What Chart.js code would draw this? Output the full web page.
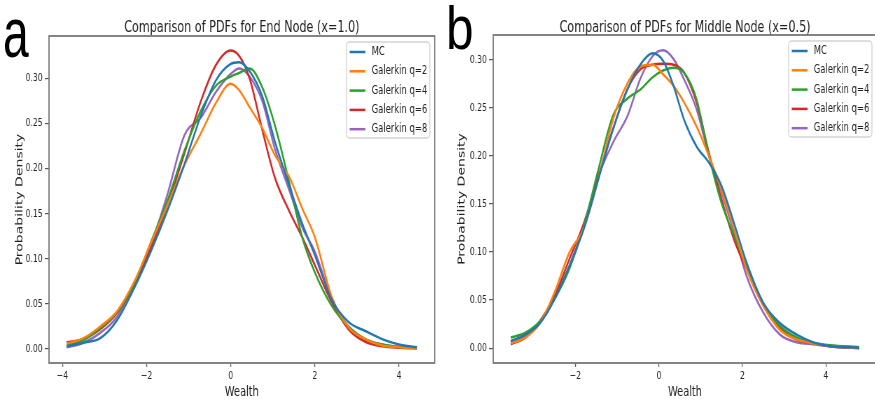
<!DOCTYPE html>
<html><head><meta charset="utf-8">
<script src="https://cdn.jsdelivr.net/npm/chart.js@4"></script>
<style>
html,body{margin:0;padding:0;background:#fff;}
body{width:875px;height:404px;overflow:hidden;position:relative;font-family:'DejaVu Sans',sans-serif;}
.panel{position:absolute;top:0;width:629px;height:404px;transform:scaleX(0.7);transform-origin:0 0;}
.letter{position:absolute;font-family:'Liberation Sans',Arial,sans-serif;color:#000;line-height:1;transform-origin:0 0;z-index:5;}
</style></head>
<body>
<div class="panel" style="left:0"><canvas id="cA" width="629" height="404"></canvas></div>
<div class="panel" style="left:440px"><canvas id="cB" width="629" height="404"></canvas></div>
<div class="letter" style="left:3px;top:-2px;font-size:70px;transform:scaleX(0.66)">a</div>
<div class="letter" style="left:446px;top:-3px;font-size:62px;transform:scaleX(0.8)">b</div>
<script>
// ---------- data ----------
const seriesNames = ['MC', 'Galerkin q=2', 'Galerkin q=4', 'Galerkin q=6', 'Galerkin q=8'];
const xTicks = [-4, -2, 0, 2, 4];
const yTicks = [0, 0.05, 0.10, 0.15, 0.20, 0.25, 0.30];

// Panel a: End Node (x=1.0)
const wealthEnd = [-3.9, -3.5, -3.1, -2.7, -2.3, -1.9, -1.5, -1.1, -0.7, -0.35, 0, 0.2, 0.45, 0.75, 1.05, 1.4, 1.7, 2.0, 2.4, 2.8, 3.2, 3.6, 4.0, 4.43];
const mcEnd  = [0.003, 0.007, 0.012, 0.032, 0.067, 0.108, 0.154, 0.205, 0.26, 0.298, 0.316, 0.318, 0.308, 0.28, 0.23, 0.18, 0.139, 0.104, 0.055, 0.03, 0.02, 0.011, 0.005, 0.002];
const q2End  = [0.006, 0.012, 0.025, 0.042, 0.074, 0.117, 0.16, 0.204, 0.24, 0.273, 0.294, 0.287, 0.268, 0.245, 0.215, 0.19, 0.156, 0.124, 0.058, 0.024, 0.011, 0.004, 0.002, 0.0005];
const q4End  = [0.004, 0.01, 0.023, 0.041, 0.072, 0.118, 0.165, 0.22, 0.265, 0.292, 0.302, 0.306, 0.311, 0.29, 0.248, 0.183, 0.124, 0.085, 0.048, 0.025, 0.011, 0.005, 0.0025, 0.001];
const q6End  = [0.0075, 0.011, 0.022, 0.04, 0.07, 0.112, 0.16, 0.217, 0.276, 0.315, 0.331, 0.325, 0.3, 0.243, 0.19, 0.152, 0.124, 0.093, 0.052, 0.022, 0.008, 0.003, 0.0015, 0.001];
const q8End  = [0.002, 0.007, 0.018, 0.036, 0.072, 0.115, 0.172, 0.237, 0.257, 0.285, 0.305, 0.311, 0.302, 0.275, 0.222, 0.175, 0.135, 0.108, 0.056, 0.025, 0.011, 0.005, 0.002, 0.001];

// Panel b: Middle Node (x=0.5)
const wealthMid = [-3.55, -3.2, -2.85, -2.5, -2.15, -1.8, -1.45, -1.1, -0.75, -0.45, -0.15, 0.1, 0.35, 0.6, 0.9, 1.2, 1.5, 1.8, 2.1, 2.5, 2.9, 3.3, 3.7, 4.1, 4.8];
const mcMid  = [0.0073, 0.014, 0.026, 0.051, 0.085, 0.124, 0.176, 0.228, 0.27, 0.295, 0.307, 0.299, 0.273, 0.238, 0.21, 0.193, 0.169, 0.13, 0.089, 0.047, 0.026, 0.014, 0.006, 0.002, 0.0005];
const q2Mid  = [0.005, 0.011, 0.026, 0.058, 0.099, 0.125, 0.176, 0.238, 0.276, 0.293, 0.295, 0.285, 0.273, 0.256, 0.231, 0.2, 0.165, 0.124, 0.082, 0.044, 0.019, 0.009, 0.005, 0.002, 0.0];
const q4Mid  = [0.011, 0.016, 0.028, 0.051, 0.082, 0.127, 0.186, 0.242, 0.26, 0.269, 0.282, 0.289, 0.292, 0.287, 0.259, 0.2, 0.151, 0.117, 0.085, 0.047, 0.023, 0.011, 0.0056, 0.003, 0.001];
const q6Mid  = [0.004, 0.011, 0.028, 0.054, 0.092, 0.13, 0.179, 0.228, 0.27, 0.29, 0.295, 0.296, 0.295, 0.287, 0.256, 0.203, 0.155, 0.113, 0.082, 0.045, 0.021, 0.009, 0.005, 0.002, 0.0];
const q8Mid  = [0.007, 0.0125, 0.026, 0.051, 0.085, 0.127, 0.179, 0.214, 0.242, 0.28, 0.304, 0.31, 0.301, 0.28, 0.249, 0.2, 0.162, 0.12, 0.075, 0.037, 0.014, 0.006, 0.004, 0.002, 0.0];

const colors = ['#1f77b4', '#ff7f0e', '#2ca02c', '#d62728', '#9467bd'];
const FONT = "'DejaVu Sans', sans-serif";

// ---------- plugins ----------
const framePlugin = {
  id: 'frame',
  afterDatasetsDraw(chart) {
    const {ctx, chartArea: a} = chart;
    ctx.save();
    ctx.strokeStyle = '#777';
    ctx.lineWidth = 1.8;
    ctx.strokeRect(a.left, a.top, a.right - a.left, a.bottom - a.top);
    ctx.restore();
  }
};
const titlePlugin = {
  id: 'axTitle',
  afterDraw(chart) {
    const {ctx, chartArea: a} = chart;
    ctx.save();
    ctx.fillStyle = '#222';
    ctx.font = '16px ' + FONT;
    ctx.textAlign = 'center';
    ctx.textBaseline = 'alphabetic';
    ctx.fillText(chart.options.plugins.axTitle.text, (a.left + a.right) / 2, 31.5);
    ctx.restore();
  }
};
const legendPlugin = {
  id: 'inLegend',
  afterDatasetsDraw(chart) {
    const {ctx, chartArea: a} = chart;
    const w = 119, h = 96, rowH = 19.3;
    const x0 = a.right - 7 - w, y0 = a.top + 6;
    ctx.save();
    ctx.fillStyle = 'rgba(255,255,255,0.85)';
    ctx.strokeStyle = '#d4d4d4';
    ctx.lineWidth = 1.4;
    ctx.beginPath();
    ctx.roundRect(x0, y0, w, h, 4);
    ctx.fill();
    ctx.stroke();
    ctx.font = '12px ' + FONT;
    ctx.textBaseline = 'middle';
    ctx.textAlign = 'left';
    chart.data.datasets.forEach((d, i) => {
      const y = y0 + 10 + i * rowH;
      ctx.strokeStyle = d.borderColor;
      ctx.lineWidth = 2.5;
      ctx.beginPath();
      ctx.moveTo(x0 + 4.5, y);
      ctx.lineTo(x0 + 27, y);
      ctx.stroke();
      ctx.fillStyle = '#222';
      ctx.fillText(d.label, x0 + 36, y);
    });
    ctx.restore();
  }
};

function fmtX(v) { return v < 0 ? '\u2212' + Math.abs(v) : String(v); }

function makeChart(id, cfg) {
  const datasets = seriesNames.map((name, i) => ({
    label: name,
    data: cfg.x.map((x, j) => ({x: x, y: cfg.series[i][j]})),
    borderColor: colors[i],
    backgroundColor: colors[i],
    borderWidth: 2.5,
    pointRadius: 0,
    cubicInterpolationMode: 'monotone',
    fill: false
  }));
  return new Chart(document.getElementById(id), {
    type: 'line',
    data: {datasets},
    options: {
      responsive: false,
      animation: false,
      devicePixelRatio: 1,
      layout: {padding: {left: 0, right: cfg.padRight, top: cfg.top, bottom: 0}},
      plugins: {
        legend: {display: false},
        tooltip: {enabled: false},
        axTitle: {text: cfg.title}
      },
      scales: {
        x: {
          type: 'linear', min: cfg.xMin, max: cfg.xMax,
          afterBuildTicks: s => { s.ticks = xTicks.filter(v => v >= cfg.xMin && v <= cfg.xMax).map(v => ({value: v})); },
          afterFit: s => { s.height = 41; },
          ticks: {callback: fmtX, font: {family: FONT, size: 11}, color: '#222', padding: 3, maxRotation: 0, autoSkip: false},
          grid: {drawOnChartArea: false, drawTicks: true, tickLength: 4, color: '#555', lineWidth: 1.2},
          border: {display: false},
          title: {display: true, text: 'Wealth', font: {family: FONT, size: 14}, color: '#222', padding: {top: 0, bottom: 3.6}}
        },
        y: {
          type: 'linear', min: cfg.yMin, max: cfg.yMax,
          afterBuildTicks: s => { s.ticks = yTicks.map(v => ({value: v})); },
          afterFit: s => { s.width = cfg.yW; },
          ticks: {callback: v => v.toFixed(2), font: {family: FONT, size: 11}, color: '#222', padding: 3, autoSkip: false},
          grid: {drawOnChartArea: false, drawTicks: true, tickLength: 6, color: '#555', lineWidth: 1.2},
          border: {display: false},
          title: {display: true, text: 'Probability Density', font: {family: FONT, size: 14}, color: '#222', padding: {top: cfg.yTitlePad, bottom: 0}}
        }
      }
    },
    plugins: [framePlugin, legendPlugin, titlePlugin]
  });
}

makeChart('cA', {
  x: wealthEnd, series: [mcEnd, q2End, q4End, q6End, q8End],
  title: 'Comparison of PDFs for End Node (x=1.0)',
  xMin: -4.32, xMax: 4.85, yMin: -0.0155, yMax: 0.347,
  yW: 70, padRight: 8, top: 36, yTitlePad: 20
});
makeChart('cB', {
  x: wealthMid, series: [mcMid, q2Mid, q4Mid, q6Mid, q8Mid],
  title: 'Comparison of PDFs for Middle Node (x=0.5)',
  xMin: -3.97, xMax: 5.22, yMin: -0.0155, yMax: 0.326,
  yW: 76, padRight: 5, top: 35, yTitlePad: 23
});
</script>
</body></html>
